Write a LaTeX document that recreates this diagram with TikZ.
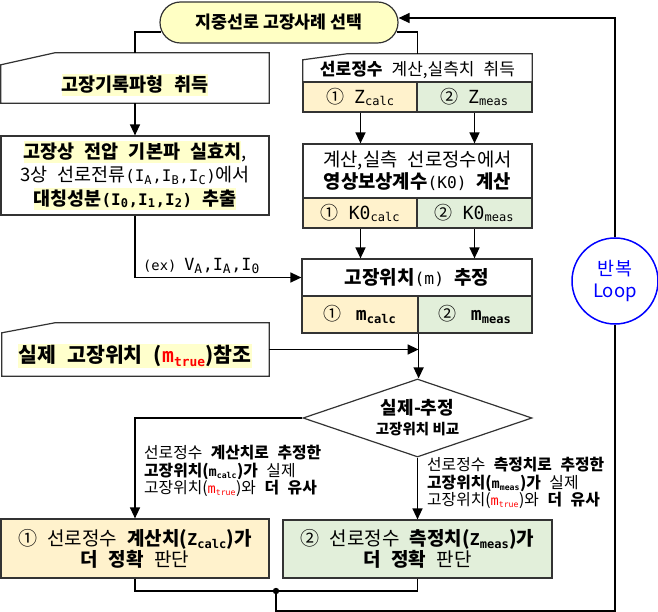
\documentclass[tikz,border=0pt]{standalone}
\usepackage{fontspec}
\setmainfont{Noto Sans CJK KR}[WordSpace=2.4]
\newfontfamily\krp{Noto Sans CJK KR}
\newfontfamily\mono{DejaVu Sans Mono}[Scale=0.86]
\usetikzlibrary{arrows.meta,shapes.geometric,calc}
\definecolor{cY}{HTML}{FFF2CC}
\definecolor{cG}{HTML}{E2EFDA}
\definecolor{cT}{HTML}{FFFFC4}
\definecolor{hlc}{HTML}{FFFFCC}
\definecolor{edge}{HTML}{333333}
\definecolor{lpb}{HTML}{0000FF}
\newcommand\hl[1]{{\setlength\fboxsep{0pt}\colorbox{hlc}{\rule[-0.24em]{0pt}{1.14em}#1}}}
\newcommand\lsub[2][14]{\raisebox{-0.3ex}{\fontsize{#1}{#1}\selectfont\mono #2}\kern0.6pt}
\newcommand\lbig[1]{{\mono\fontsize{21}{20}\selectfont #1}}
\tikzset{
  bx/.style={draw=edge, line width=1.2pt, inner sep=0pt},
  txt/.style={font=\fontsize{18.5}{23.5}\selectfont, align=center, inner sep=0pt},
  cellY/.style={bx, txt, fill=cY, minimum width=115pt},
  cellG/.style={bx, txt, fill=cG, minimum width=115pt},
  ln/.style={line width=1.4pt},
  arr/.style={line width=1.4pt, -{Triangle[length=11pt,width=10pt]}},
}
\begin{document}
\begin{tikzpicture}[x=1pt,y=-1pt]
\useasboundingbox (0,0) rectangle (658,612);

% start terminator
\node[bx, rounded corners=20.5pt, fill=cT, minimum width=238pt, minimum height=41pt] (start) at (279,22.5)
  {\krp\bfseries\fontsize{17.3}{20}\selectfont 지중선로 고장사례 선택};

% left manual input: fault record
\node[minimum width=268pt, minimum height=50pt, inner sep=0pt] (rec) at (135,78) {};
\draw[bx] ([yshift=-12pt]rec.north west) -- ([xshift=54pt]rec.north west) -- (rec.north east)
  -- (rec.south east) -- (rec.south west) -- cycle;
\node[txt] (rect) at (135,85) {\hl{\bfseries 고장기록파형 취득}};

% extraction box
\node[bx, txt, minimum width=268pt, minimum height=79pt] (ext) at (135,175.5)
  {\hl{\bfseries 고장상 전압 기본파 실효치},\\
   3상 선로전류{\mono(I\lsub{A},I\lsub{B},I\lsub{C})}에서\\
   \hl{\bfseries 대칭성분{\mono(I\lsub{0},I\lsub{1},I\lsub{2})} 추출}};

% right manual input: line constants
\node[minimum width=229pt, minimum height=28pt, inner sep=0pt] (zin) at (417.5,68) {};
\draw[bx] ([yshift=-6pt]zin.north west) -- ([xshift=44pt]zin.north west) -- (zin.north east)
  -- (zin.south east) -- (zin.south west) -- cycle;
\node[txt, font=\fontsize{17}{20}\selectfont] (zint) at (417.5,70) {{\bfseries 선로정수} 계산,실측치 취득};
\node[cellY, minimum height=30pt, font=\fontsize{18}{20}\selectfont] (zc) at (360.5,97) {①\hspace{0.55em}\lbig{Z}\lsub{calc}};
\node[cellG, minimum height=30pt, font=\fontsize{18}{20}\selectfont] (zm) at (474.5,97) {②\hspace{0.55em}\lbig{Z}\lsub{meas}};

% K0 box
\node[bx, txt, minimum width=229pt, minimum height=54pt, font=\fontsize{18.8}{22}\selectfont] (k0) at (417.5,171)
  {계산,실측 선로정수에서\\ {\bfseries 영상보상계수}{\mono(K0)} {\bfseries 계산}};
\node[cellY, minimum height=30pt, font=\fontsize{18}{20}\selectfont] (kc) at (360.5,213) {①\hspace{0.55em}\lbig{K0}\lsub{calc}};
\node[cellG, minimum height=30pt, font=\fontsize{18}{20}\selectfont] (km) at (474.5,213) {②\hspace{0.55em}\lbig{K0}\lsub{meas}};

% fault location box
\node[bx, txt, minimum width=230pt, minimum height=37pt, font=\fontsize{19}{22}\selectfont] (mbox) at (417,277.5)
  {{\bfseries 고장위치}{\mono(m)} {\bfseries 추정}};
\node[cellY, minimum width=116pt, minimum height=37pt, font=\fontsize{18}{20}\selectfont] (mc) at (360,314.5) {①\hspace{0.8em}{\bfseries\lbig{m}\lsub{calc}}};
\node[cellG, minimum width=114pt, minimum height=37pt, font=\fontsize{18}{20}\selectfont] (mm) at (475,314.5) {②\hspace{0.8em}{\bfseries\lbig{m}\lsub{meas}}};

% true location manual input
\node[minimum width=267pt, minimum height=53pt, inner sep=0pt] (tru) at (135.5,349.5) {};
\draw[bx] ([yshift=-10pt]tru.north west) -- ([xshift=53pt]tru.north west) -- (tru.north east)
  -- (tru.south east) -- (tru.south west) -- cycle;
\node[txt, font=\fontsize{20.5}{24}\selectfont] (trut) at (135,356)
  {\hl{\bfseries 실제 고장위치 ({\color{red}{\mono\fontsize{23}{24}\selectfont m}\lsub[15]{true}})참조}};

% decision
\node[draw=edge, line width=1.2pt, diamond, aspect=2.94, minimum width=229pt, minimum height=78pt, inner sep=0pt] (cmp) at (417.5,418) {};
\node[inner sep=0pt, font=\bfseries\fontsize{18}{20}\selectfont] (cmpt1) at (417.5,408) {실제-추정};
\node[inner sep=0pt, font=\krp\bfseries\fontsize{14.5}{16}\selectfont] (cmpt2) at (417.5,429.5) {고장위치 비교};

% results
\node[bx, txt, fill=cY, minimum width=268pt, minimum height=59pt, font=\fontsize{19}{21}\selectfont] (res1) at (135,548.5)
  {① 선로정수 {\bfseries 계산치({\mono Z}\lsub{calc})가}\\ {\bfseries 더 정확} 판단};
\node[bx, txt, fill=cG, minimum width=269pt, minimum height=58pt, font=\fontsize{19}{21}\selectfont] (res2) at (417.5,549)
  {② 선로정수 {\bfseries 측정치({\mono Z}\lsub{meas})가}\\ {\bfseries 더 정확} 판단};

% branch labels
\node[anchor=north west, align=left, inner sep=0pt, font=\fontsize{15.8}{17.5}\selectfont] (lab1) at (144,445)
  {선로정수 {\bfseries 계산치로 추정한}\\
   {\bfseries 고장위치({\mono m}\lsub[9.5]{calc})가} 실제\\
   고장위치({\color{red}\mono m\lsub[9.5]{true}})와 {\bfseries 더 유사}};
\node[anchor=north west, align=left, inner sep=0pt, font=\fontsize{15.8}{17.5}\selectfont] (lab2) at (427,457)
  {선로정수 {\bfseries 측정치로 추정한}\\
   {\bfseries 고장위치({\mono m}\lsub[9.5]{meas})가} 실제\\
   고장위치({\color{red}\mono m\lsub[9.5]{true}})와 {\bfseries 더 유사}};

% ex label
\node[anchor=south west, inner sep=0pt] (exl) at (143,274)
  {{\mono\fontsize{16}{16}\selectfont (ex)}\hspace{8pt}{\mono\fontsize{19.5}{19.5}\selectfont V\lsub[15]{A},I\lsub[15]{A},I\lsub[15]{0}}};

% loop circle
\node[circle, draw=lpb, line width=1.5pt, minimum size=86pt, inner sep=0pt, align=center, text=lpb,
  font=\krp\fontsize{18.5}{21.5}\selectfont] (loop) at (615,281) {반복\\Loop};

% junction
\coordinate (j) at (276,591);
\fill (j) circle (3.2pt);

% connectors
\draw[ln] ([xshift=2pt,yshift=-9.5pt]start.west) -| (rec.north);
\draw[ln] ([xshift=-2pt,yshift=-9.5pt]start.east) -| (zin.north);
\draw[arr] (rec.south) -- (ext.north);
\draw[arr] (zc.south) -- (zc.south |- k0.north);
\draw[arr] (zm.south) -- (zm.south |- k0.north);
\draw[arr] (kc.south) -- (kc.south |- mbox.north);
\draw[arr] (km.south) -- (km.south |- mbox.north);
\draw[arr] (ext.south) |- (mbox.west);
\draw[arr] (tru.east) -- (tru.east -| mc.south east);
\draw[arr] (mc.south east) -- (mc.south east |- cmp.north);
\draw[arr] (cmp.west) -| (res1.north);
\draw[arr] (cmp.south) -- (res2.north);
\draw[ln] (res1.south) |- (j);
\draw[ln] (res2.south) |- (j);
\draw[ln] (j) -- ++(0,20) -| (loop.south);
\draw[arr] (loop.north) |- ([yshift=4.5pt]start.east);
\end{tikzpicture}
\end{document}
